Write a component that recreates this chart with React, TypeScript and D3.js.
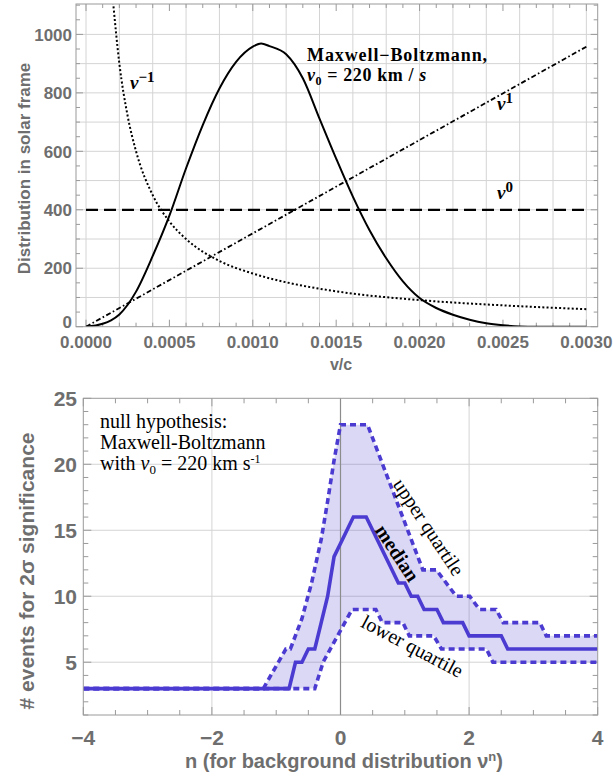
import React from "react";
import * as d3 from "d3";

// ---------- Top chart data ----------
const mbV = [0, 0.0001, 0.00015, 0.0002, 0.00025, 0.0003, 0.0004, 0.0005, 0.0006, 0.0007, 0.0008, 0.0009, 0.001, 0.00105, 0.0011, 0.0012, 0.0013, 0.0014, 0.0015, 0.0016, 0.0017, 0.0018, 0.0019, 0.002, 0.0021, 0.0022, 0.0023, 0.0024, 0.0025, 0.0026, 0.0027, 0.0028, 0.003];
const mbF = [0, 10, 22, 42, 75, 120, 242, 380, 542, 690, 815, 906, 958, 969, 960, 932, 850, 712, 575, 445, 330, 234, 155, 98, 64, 41, 24, 12, 5, 1, 0, 0, 0];
const invV = [0.00016, 0.0002, 0.00025, 0.0003, 0.0004, 0.0005, 0.0006, 0.0008, 0.001, 0.0012, 0.0015, 0.002, 0.0025, 0.003];
const invF = [1125, 900, 720, 600, 450, 360, 300, 225, 182, 152, 121, 91, 73, 60];
const linV = [0, 0.003];
const linF = [0, 958];
const flatV = [0, 0.003];
const flatF = [400, 400];
const topXTicks = [0, 0.0005, 0.001, 0.0015, 0.002, 0.0025, 0.003];
const topXLabels = ["0.0000", "0.0005", "0.0010", "0.0015", "0.0020", "0.0025", "0.0030"];
const topYTicks = [0, 200, 400, 600, 800, 1000];
const topYLabels = ["0", "200", "400", "600", "800", "1000"];

// ---------- Bottom chart data ----------
const medN = [-4, -0.8, -0.7, -0.6, -0.5, -0.4, -0.3, -0.2, -0.1, 0.0, 0.2, 0.4, 0.9, 1.0, 1.1, 1.2, 1.3, 1.5, 1.6, 1.9, 2.0, 2.5, 2.6, 4];
const medV = [3, 3, 5, 5, 6, 6, 8, 10, 13, 14, 16, 16, 11, 11, 10, 10, 9, 9, 8, 8, 7, 7, 6, 6];
const upN = [-4, -1.2, -0.85, -0.78, -0.6, -0.45, -0.3, -0.2, -0.1, 0.0, 0.42, 1.28, 1.49, 1.8, 2.01, 2.16, 2.42, 2.53, 3.1, 3.2, 4];
const upV = [3, 3, 6, 6, 8.3, 11, 14.3, 17.2, 20.3, 23, 23, 12, 12, 10, 10, 9, 9, 8, 8, 7, 7];
const loN = [-4, -0.4, -0.27, 0.18, 0.55, 0.65, 0.97, 1.07, 1.45, 1.57, 2.27, 2.37, 4];
const loV = [3, 3, 5, 9, 9, 8, 8, 7, 7, 6, 6, 5, 5];
const botXTicks = [-4, -2, 0, 2, 4];
const botXLabels = ["\u22124", "\u22122", "0", "2", "4"];
const botYTicks = [5, 10, 15, 20, 25];
const botYLabels = ["5", "10", "15", "20", "25"];

const zip = (a: number[], b: number[]) => a.map((v, i) => [v, b[i]] as [number, number]);

const GRAY = "#6e6e6e";
const FRAME = "#9a9a9a";
const GRID = "#d4d4d4";
const PURPLE = "#4b3bd1";
const SANS = "'Liberation Sans', Arial, sans-serif";
const SERIF = "'Liberation Serif', 'Times New Roman', serif";

export default function App() {
  // ---------- top scales ----------
  const tx = d3.scaleLinear().domain([-0.00006, 0.003068]).range([76, 597.7]);
  const ty = d3.scaleLinear().domain([0, 1104]).range([326.7, 4]);
  const tl = d3.line<[number, number]>().x((d) => tx(d[0])).y((d) => ty(d[1]));
  const tlSmooth = d3.line<[number, number]>().x((d) => tx(d[0])).y((d) => ty(d[1])).curve(d3.curveMonotoneX);

  const tL = tx.range()[0], tR = tx.range()[1], tT = ty.range()[1], tB = ty.range()[0];

  const topGridX = d3.range(0, 0.00301, 0.0002);
  const topGridY = d3.range(100, 1001, 100);
  const topMinorX = d3.range(0, 0.00301, 0.0001);
  const topMinorY = d3.range(0, 1101, 50);

  // ---------- bottom scales ----------
  const bx = d3.scaleLinear().domain([-4, 4]).range([83.3, 597.7]);
  const by = d3.scaleLinear().domain([1, 25]).range([715, 398.3]);
  const bl = d3.line<[number, number]>().x((d) => bx(d[0])).y((d) => by(d[1]));
  const bL = 83.3, bR = 597.7, bT = 398.3, bB = 715;

  const upPts = zip(upN, upV);
  const loPts = zip(loN, loV);
  const bandPts = [...upPts, ...loPts.slice().reverse()];

  const botMinorX = d3.range(-4, 4.01, 0.5);
  const botMinorY = d3.range(1, 25.01, 1);

  return (
    <svg width={613} height={778} style={{ position: "absolute", left: 0, top: 0, background: "#fff" }}>
      <defs>
        <clipPath id="topclip">
          <rect x={tL} y={tT} width={tR - tL} height={tB - tT} />
        </clipPath>
        <clipPath id="botclip">
          <rect x={bL} y={bT} width={bR - bL} height={bB - bT} />
        </clipPath>
      </defs>

      {/* ================= TOP CHART ================= */}
      <g>
        {topGridX.map((v, i) => (
          <line key={"tgx" + i} x1={tx(v)} x2={tx(v)} y1={tT} y2={tB} stroke={GRID} strokeWidth={1} />
        ))}
        {topGridY.map((v, i) => (
          <line key={"tgy" + i} x1={tL} x2={tR} y1={ty(v)} y2={ty(v)} stroke={GRID} strokeWidth={1} />
        ))}
        {topMinorX.map((v, i) => {
          const major = Math.abs(v / 0.0005 - Math.round(v / 0.0005)) < 1e-6;
          const len = major ? 7 : 4;
          return (
            <g key={"tmx" + i}>
              <line x1={tx(v)} x2={tx(v)} y1={tB} y2={tB - len} stroke={FRAME} />
              <line x1={tx(v)} x2={tx(v)} y1={tT} y2={tT + len} stroke={FRAME} />
            </g>
          );
        })}
        {topMinorY.map((v, i) => {
          const major = v % 200 === 0;
          const len = major ? 7 : 4;
          return (
            <g key={"tmy" + i}>
              <line x1={tL} x2={tL + len} y1={ty(v)} y2={ty(v)} stroke={FRAME} />
              <line x1={tR} x2={tR - len} y1={ty(v)} y2={ty(v)} stroke={FRAME} />
            </g>
          );
        })}
        <g clipPath="url(#topclip)" fill="none" stroke="#000">
          <path d={tl(zip(flatV, flatF)) || ""} strokeWidth={2.2} strokeDasharray="12,6" />
          <path d={tl(zip(linV, linF)) || ""} strokeWidth={1.8} strokeDasharray="5,2.5,1.6,2.5" />
          <path d={tlSmooth(zip(invV, invF)) || ""} strokeWidth={2} strokeDasharray="2,2.2" />
          <path d={tlSmooth(zip(mbV, mbF)) || ""} strokeWidth={2} />
        </g>
        <rect x={tL} y={tT} width={tR - tL} height={tB - tT} fill="none" stroke={FRAME} strokeWidth={1} />
        {topXTicks.map((v, i) => (
          <text key={"txl" + i} x={tx(v)} y={348} textAnchor="middle" fontFamily={SANS} fontWeight="bold" fontSize={17} fill={GRAY}>
            {topXLabels[i]}
          </text>
        ))}
        {topYTicks.map((v, i) => (
          <text key={"tyl" + i} x={72} y={ty(v) + (v === 0 ? 1.5 : 6.2)} textAnchor="end" fontFamily={SANS} fontWeight="bold" fontSize={17} fill={GRAY}>
            {topYLabels[i]}
          </text>
        ))}
        <text x={341} y={370} textAnchor="middle" fontFamily={SANS} fontWeight="bold" fontSize={16} fill={GRAY}>v/c</text>
        <text transform="translate(30,168.5) rotate(-90)" textAnchor="middle" fontFamily={SANS} fontWeight="bold" fontSize={17} fill={GRAY}>
          Distribution in solar frame
        </text>
        {/* curve labels */}
        <text x={130} y={89} fontFamily={SERIF} fontWeight="bold" fontSize={19} fill="#000">
          <tspan fontStyle="italic">ν</tspan>
          <tspan dy={-7} fontSize={15}>−1</tspan>
        </text>
        <text x={497} y={110} fontFamily={SERIF} fontWeight="bold" fontSize={19} fill="#000">
          <tspan fontStyle="italic">ν</tspan>
          <tspan dy={-7} fontSize={15}>1</tspan>
        </text>
        <text x={497} y={199} fontFamily={SERIF} fontWeight="bold" fontSize={19} fill="#000">
          <tspan fontStyle="italic">ν</tspan>
          <tspan dy={-7} fontSize={15}>0</tspan>
        </text>
        <text x={307} y={61} fontFamily={SERIF} fontWeight="bold" fontSize={18} letterSpacing={0.9} fill="#000">Maxwell−Boltzmann,</text>
        <text x={307} y={81} fontFamily={SERIF} fontWeight="bold" fontSize={18} letterSpacing={0.6} fill="#000">
          <tspan fontStyle="italic">ν</tspan>
          <tspan fontSize={12} dy={4}>0</tspan>
          <tspan dy={-4}> = 220 km / </tspan>
          <tspan fontStyle="italic">s</tspan>
        </text>
      </g>

      {/* ================= BOTTOM CHART ================= */}
      <g>
        {[5, 10, 15, 20].map((v, i) => (
          <line key={"bgy" + i} x1={bL} x2={bR} y1={by(v)} y2={by(v)} stroke={GRID} strokeWidth={1} />
        ))}
        {[-2, 2].map((v, i) => (
          <line key={"bgx" + i} x1={bx(v)} x2={bx(v)} y1={bT} y2={bB} stroke={GRID} strokeWidth={1} />
        ))}
        {botMinorX.map((v, i) => {
          const major = Math.abs(v % 2) < 1e-6;
          const len = major ? 8 : 5;
          return (
            <g key={"bmx" + i}>
              <line x1={bx(v)} x2={bx(v)} y1={bB} y2={bB - len} stroke={FRAME} />
              <line x1={bx(v)} x2={bx(v)} y1={bT} y2={bT + len} stroke={FRAME} />
            </g>
          );
        })}
        {botMinorY.map((v, i) => {
          const major = v % 5 === 0;
          const len = major ? 8 : 5;
          return (
            <g key={"bmy" + i}>
              <line x1={bL} x2={bL + len} y1={by(v)} y2={by(v)} stroke={FRAME} />
              <line x1={bR} x2={bR - len} y1={by(v)} y2={by(v)} stroke={FRAME} />
            </g>
          );
        })}
        <g clipPath="url(#botclip)">
          <path d={(bl(bandPts) || "") + "Z"} fill={PURPLE} fillOpacity={0.2} stroke="none" />
          <line x1={bx(0)} x2={bx(0)} y1={bT} y2={bB} stroke="#8c8c8c" strokeWidth={1.2} />
          <path d={bl(upPts) || ""} fill="none" stroke={PURPLE} strokeWidth={3.6} strokeDasharray="6,4" />
          <path d={bl(loPts) || ""} fill="none" stroke={PURPLE} strokeWidth={3.6} strokeDasharray="6,4" />
          <path d={bl(zip(medN, medV)) || ""} fill="none" stroke={PURPLE} strokeWidth={3.6} strokeLinejoin="miter" />
        </g>
        <rect x={bL} y={bT} width={bR - bL} height={bB - bT} fill="none" stroke={FRAME} strokeWidth={1} />
        {botXTicks.map((v, i) => (
          <text key={"bxl" + i} x={bx(v)} y={745} textAnchor="middle" fontFamily={SANS} fontWeight="bold" fontSize={21} fill={GRAY}>
            {botXLabels[i]}
          </text>
        ))}
        {botYTicks.map((v, i) => (
          <text key={"byl" + i} x={77} y={by(v) + 7.5} textAnchor="end" fontFamily={SANS} fontWeight="bold" fontSize={21} fill={GRAY}>
            {botYLabels[i]}
          </text>
        ))}
        <text x={185} y={768} fontFamily={SANS} fontWeight="bold" fontSize={20} fill={GRAY}>
          n  (for background distribution ν<tspan dy={-7} fontSize={13}>n</tspan><tspan dy={7}>)</tspan>
        </text>
        <text transform="translate(34,571) rotate(-90)" textAnchor="middle" fontFamily={SANS} fontWeight="bold" fontSize={21} fill={GRAY}>
          # events for 2σ significance
        </text>
        {/* annotations */}
        <text fontFamily={SERIF} fontSize={20} fill="#000">
          <tspan x={100} y={428}>null hypothesis:</tspan>
          <tspan x={100} y={449}>Maxwell-Boltzmann</tspan>
        </text>
        <text x={100} y={470} fontFamily={SERIF} fontSize={20} fill="#000">
          with <tspan fontStyle="italic">ν</tspan><tspan dy={4} fontSize={13}>0</tspan><tspan dy={-4}> = 220 km s</tspan><tspan dy={-7} fontSize={12}>-1</tspan>
        </text>
        <text transform="translate(429,527) rotate(56.5)" textAnchor="middle" dominantBaseline="central" fontFamily={SERIF} fontSize={20} fill="#000">
          upper quartile
        </text>
        <text transform="translate(397.5,553) rotate(56.7)" textAnchor="middle" dominantBaseline="central" fontFamily={SERIF} fontWeight="bold" fontSize={20} fill="#000">
          median
        </text>
        <text transform="translate(412.5,646) rotate(27.7)" textAnchor="middle" dominantBaseline="central" fontFamily={SERIF} fontSize={20} fill="#000">
          lower quartile
        </text>
      </g>
    </svg>
  );
}
